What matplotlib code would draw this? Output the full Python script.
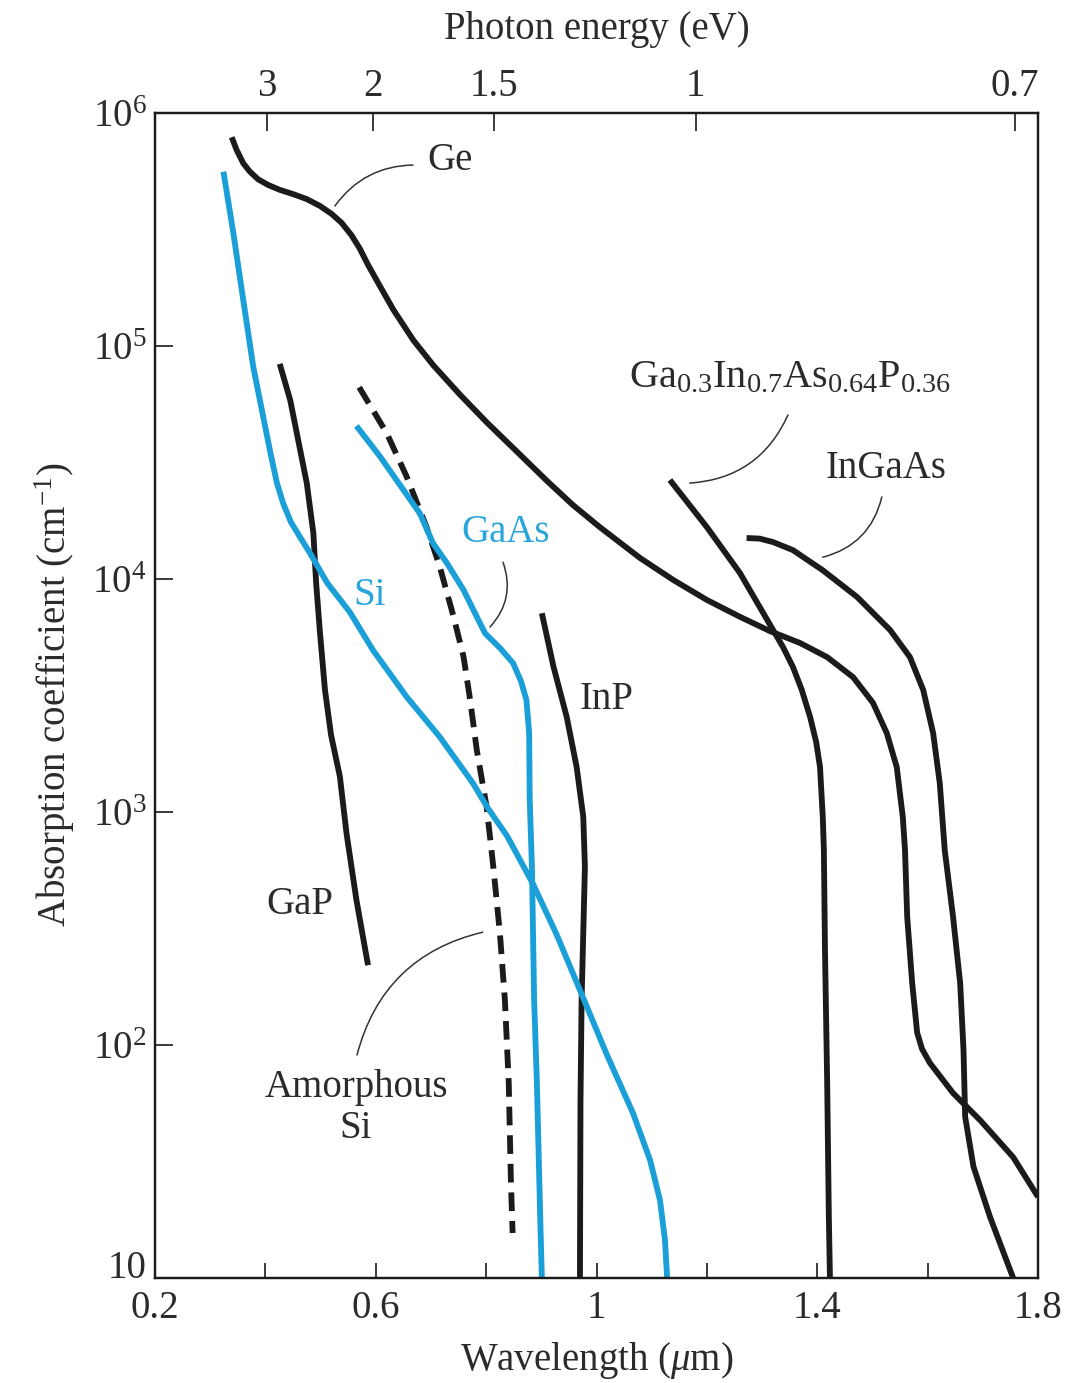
import matplotlib
matplotlib.use("Agg")
import matplotlib.pyplot as plt
from matplotlib.ticker import FixedLocator, NullLocator

plt.rcParams['font.family'] = ['Liberation Serif', 'DejaVu Serif']
plt.rcParams['mathtext.fontset'] = 'custom'
plt.rcParams['mathtext.rm'] = 'Liberation Serif'
plt.rcParams['mathtext.it'] = 'Liberation Serif:italic'
plt.rcParams['mathtext.bf'] = 'Liberation Serif:bold'

# ---------------- data (wavelength in um, absorption in cm^-1) ----------------
ge_wl = [0.339, 0.348, 0.360, 0.372, 0.387, 0.405, 0.426, 0.451, 0.475, 0.499, 0.520,
         0.538, 0.556, 0.571, 0.586, 0.608, 0.632, 0.668, 0.704, 0.753, 0.802, 0.849,
         0.910, 0.957, 1.006, 1.079, 1.139, 1.200, 1.260, 1.314, 1.369, 1.418, 1.465,
         1.501, 1.526, 1.544, 1.555, 1.559, 1.563, 1.572, 1.581, 1.590, 1.604, 1.646,
         1.695, 1.755, 1.800]
ge_abs = [7.87e5, 6.93e5, 6.08e5, 5.60e5, 5.19e5, 4.91e5, 4.68e5, 4.48e5, 4.27e5, 3.99e5,
          3.69e5, 3.38e5, 2.99e5, 2.62e5, 2.23e5, 1.80e5, 1.43e5, 1.06e5, 8.28e4, 6.17e4,
          4.68e4, 3.65e4, 2.64e4, 2.08e4, 1.67e4, 1.23e4, 9.91e3, 8.13e3, 6.88e3, 5.98e3,
          5.31e3, 4.62e3, 3.79e3, 2.94e3, 2.18e3, 1.56e3, 953, 687, 354, 185, 113, 96,
          83.8, 62.2, 47.6, 33.0, 22.3]

si_wl = [0.324, 0.342, 0.360, 0.378, 0.396, 0.410, 0.421, 0.432, 0.446, 0.463, 0.481,
         0.512, 0.553, 0.595, 0.656, 0.716, 0.776, 0.803, 0.838, 0.885, 0.928, 0.970,
         1.019, 1.066, 1.097, 1.115, 1.124, 1.128]
si_abs = [5.60e5, 3.05e5, 1.57e5, 8.15e4, 4.98e4, 3.40e4, 2.58e4, 2.12e4, 1.76e4, 1.51e4,
          1.29e4, 9.62e3, 7.21e3, 4.95e3, 3.12e3, 2.10e3, 1.33e3, 1.04e3, 789, 491, 297,
          172, 90.6, 51.1, 32.1, 21.6, 14.6, 10]

gap_wl = [0.426, 0.445, 0.457, 0.475, 0.487, 0.492, 0.499, 0.508, 0.519, 0.535, 0.547,
          0.565, 0.586]
gap_abs = [8.38e4, 5.86e4, 4.22e4, 2.58e4, 1.57e4, 9.59e3, 5.85e3, 3.34e3, 2.14e3, 1.42e3,
           811, 419, 220]

gaas_wl = [0.565, 0.608, 0.644, 0.680, 0.704, 0.729, 0.759, 0.783, 0.798, 0.825, 0.849,
           0.863, 0.873, 0.878, 0.879, 0.883, 0.885, 0.887, 0.892, 0.898, 0.901]
gaas_abs = [4.54e4, 3.35e4, 2.53e4, 1.91e4, 1.42e4, 1.17e4, 8.98e3, 6.89e3, 5.85e3, 5.06e3,
            4.35e3, 3.65e3, 3.03e3, 2.18e3, 1.13e3, 582, 301, 156, 68.5, 18.3, 10]

asi_wl = [0.570, 0.620, 0.656, 0.692, 0.716, 0.741, 0.759, 0.771, 0.783, 0.801, 0.813,
          0.825, 0.834, 0.841, 0.845, 0.848]
asi_abs = [6.65e4, 4.22e4, 2.75e4, 1.67e4, 1.13e4, 6.89e3, 4.65e3, 3.03e3, 1.85e3, 1.05e3,
           582, 301, 156, 68.5, 25.5, 15.6]

inp_wl = [0.901, 0.922, 0.946, 0.964, 0.976, 0.979, 0.976, 0.973, 0.971, 0.970]
inp_abs = [7.13e3, 4.21e3, 2.56e3, 1.56e3, 955, 582, 301, 156, 58, 10]

gainasp_wl = [1.133, 1.200, 1.260, 1.320, 1.338, 1.356, 1.372, 1.387, 1.398, 1.405, 1.410,
              1.412, 1.414, 1.418, 1.421, 1.423]
gainasp_abs = [2.66e4, 1.67e4, 1.06e4, 6.04e3, 5.1e3, 4.19e3, 3.34e3, 2.56e3, 2.0e3,
               1.56e3, 953, 687, 256, 68.7, 18.3, 10]

ingaas_wl = [1.272, 1.296, 1.320, 1.356, 1.410, 1.472, 1.532, 1.568, 1.592, 1.610, 1.622,
             1.631, 1.646, 1.659, 1.665, 1.668, 1.683, 1.713, 1.755]
ingaas_abs = [1.50e4, 1.49e4, 1.44e4, 1.33e4, 1.09e4, 8.38e3, 6.04e3, 4.62e3, 3.34e3,
              2.18e3, 1.33e3, 687, 356, 184, 95.3, 49.2, 30.1, 18.3, 10]

x_ticks = [0.2, 0.4, 0.6, 0.8, 1.0, 1.2, 1.4, 1.6, 1.8]
x_ticklabels = ['0.2', '', '0.6', '', '1', '', '1.4', '', '1.8']
y_ticks = [10, 1e2, 1e3, 1e4, 1e5, 1e6]
y_ticklabels = ['10', '10$^{2}$', '10$^{3}$', '10$^{4}$', '10$^{5}$', '10$^{6}$']
energy_ticklabels = ['3', '2', '1.5', '1', '0.7']
energy_tick_wl = [0.403, 0.595, 0.814, 1.180, 1.758]

# ---------------- styles ----------------
BLACK = '#1b1b1b'
BLUE = '#1a9fd9'
TXT = '#2b2b2b'
BLUE_TXT = '#2aa5dc'
LW = 4.2
FS = 28

fig = plt.figure(figsize=(10.89, 13.83), dpi=100)
ax = fig.add_axes([155/1089, 105/1383, 883/1089, 1165/1383])

line_kw = dict(lw=LW, solid_capstyle='butt', solid_joinstyle='round')
ax.plot(ge_wl, ge_abs, color=BLACK, **line_kw)
ax.plot(gap_wl, gap_abs, color=BLACK, **line_kw)
ax.plot(inp_wl, inp_abs, color=BLACK, **line_kw)
ax.plot(gainasp_wl, gainasp_abs, color=BLACK, **line_kw)
ax.plot(ingaas_wl, ingaas_abs, color=BLACK, **line_kw)
ax.plot(asi_wl, asi_abs, color=BLACK, lw=LW, dashes=(3.2, 1.7))
ax.plot(si_wl, si_abs, color=BLUE, **line_kw)
ax.plot(gaas_wl, gaas_abs, color=BLUE, **line_kw)

ax.set_xlim(0.2, 1.8)
ax.set_yscale('log')
ax.set_ylim(10, 1e6)

ax.xaxis.set_major_locator(FixedLocator(x_ticks))
ax.set_xticklabels(x_ticklabels)
ax.yaxis.set_major_locator(FixedLocator(y_ticks))
ax.yaxis.set_minor_locator(NullLocator())
ax.set_yticklabels(y_ticklabels)
ax.tick_params(axis='x', direction='in', length=11, width=1.3, pad=9,
               labelsize=FS, colors=TXT, top=False)
ax.tick_params(axis='y', direction='in', length=13, width=1.3, pad=6,
               labelsize=FS, colors=TXT, right=False)
# the lowest y label sits on the axis line, clear of the "0.2" x label
ax.get_yticklabels()[0].set_verticalalignment('baseline')
for s in ax.spines.values():
    s.set_linewidth(1.6)
    s.set_color(BLACK)

ax2 = ax.twiny()
ax2.set_xlim(0.2, 1.8)
ax2.xaxis.set_major_locator(FixedLocator(energy_tick_wl))
ax2.set_xticklabels(energy_ticklabels)
ax2.tick_params(axis='x', direction='in', length=13, width=1.3, pad=6,
                labelsize=FS, colors=TXT)
for s in ax2.spines.values():
    s.set_linewidth(1.6)
    s.set_color(BLACK)

ax.text(0.5, -0.0704, 'Wavelength ($\\mu$m)', transform=ax.transAxes,
        ha='center', va='center', fontsize=FS, color=TXT)
ax.text(0.5, 1.0713, 'Photon energy (eV)', transform=ax.transAxes,
        ha='center', va='center', fontsize=FS, color=TXT)
ax.text(-0.1135, 0.5004, 'Absorption coefficient (cm$^{-1}$)', transform=ax.transAxes,
        ha='center', va='center', rotation=90, fontsize=FS, color=TXT)

# ---------------- curve labels ----------------
ax.text(0.7345, 6.28e5, 'Ge', ha='center', va='center', fontsize=FS, color=TXT)
ax.text(1.3506, 7.3e4, 'Ga$_{0.3}$In$_{0.7}$As$_{0.64}$P$_{0.36}$', ha='center',
        va='center', fontsize=FS + 1, color=TXT)
ax.text(1.5245, 2.99e4, 'InGaAs', ha='center', va='center', fontsize=FS, color=TXT)
ax.text(0.836, 1.59e4, 'GaAs', ha='center', va='center', fontsize=FS, color=BLUE_TXT)
ax.text(0.5896, 8.53e3, 'Si', ha='center', va='center', fontsize=FS, color=BLUE_TXT)
ax.text(1.019, 3.03e3, 'InP', ha='center', va='center', fontsize=FS, color=TXT)
ax.text(0.4627, 399, 'GaP', ha='center', va='center', fontsize=FS, color=TXT)
ax.text(0.5642, 53.5, 'Amorphous\nSi', ha='center', va='center', fontsize=FS,
        color=TXT, linespacing=1.15)

leader = dict(arrowstyle='-', color='#333333', lw=1.1, shrinkA=0, shrinkB=0)
def lead(start, end, rad):
    ax.annotate('', xy=end, xytext=start,
                arrowprops=dict(leader, connectionstyle=f'arc3,rad={rad}'))

lead((0.6675, 5.98e5), (0.526, 3.99e5), 0.25)
lead((1.347, 5.06e4), (1.169, 2.58e4), -0.3)
lead((1.517, 2.25e4), (1.410, 1.24e4), -0.3)
lead((0.8306, 1.18e4), (0.807, 6.22e3), -0.3)
lead((0.794, 305), (0.566, 90.6), 0.3)

fig.savefig('out.png', dpi=100)
